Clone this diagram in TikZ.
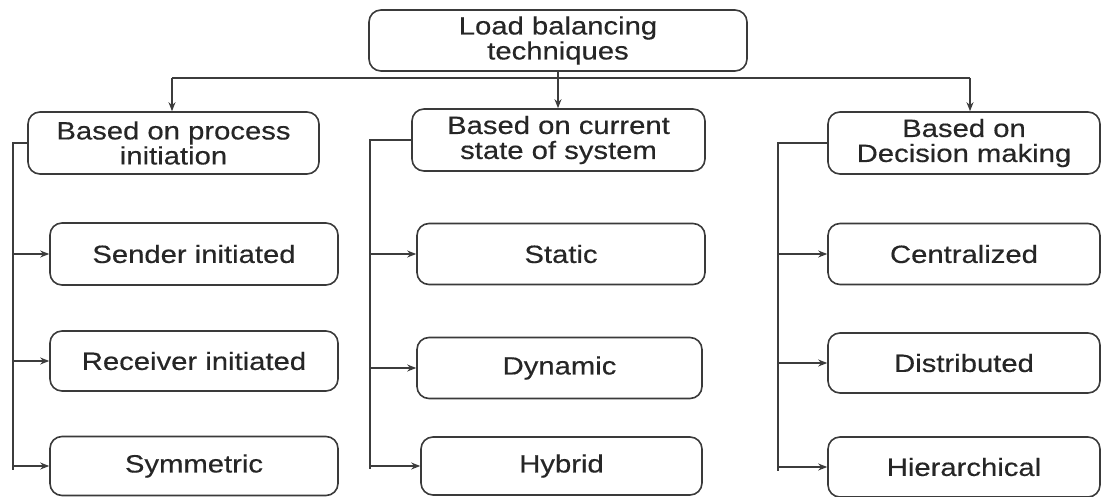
\documentclass[tikz,border=0pt]{standalone}
\usepackage{fontspec}
\setmainfont{Liberation Sans}[FakeStretch=1.17,FakeBold=0.4]
\usetikzlibrary{arrows.meta}
\definecolor{boxc}{HTML}{3A3A3A}
\definecolor{linec}{HTML}{3C3C3C}
\definecolor{txt}{HTML}{262626}
\begin{document}
\begin{tikzpicture}[x=1pt,y=-1pt,
  box/.style={draw=boxc, line width=1.6pt, rounded corners=12pt, inner sep=0pt,
    align=center, font=\fontsize{25}{25}\selectfont, text=txt},
  link/.style={draw=linec, line width=2pt},
  arr/.style={link, -{Stealth[length=9pt,width=7pt]}}]
\useasboundingbox (0,0) rectangle (1102,497);

% root
\node[box, minimum width=378pt, minimum height=61pt] (top) at (558,40.5) {Load balancing\\techniques};

% categories
\node[box, minimum width=291pt, minimum height=62pt] (c1) at (173.5,143) {Based on process\\initiation};
\node[box, minimum width=293pt, minimum height=62pt] (c2) at (558.5,140) {Based on current\\state of system};
\node[box, minimum width=272pt, minimum height=62pt] (c3) at (964,143) {Based on\\Decision making};

% leaves: process initiation
\node[box, minimum width=288pt, minimum height=62pt] (s1) at (194,254) {Sender initiated};
\node[box, minimum width=288pt, minimum height=60pt] (s2) at (194,361) {Receiver initiated};
\node[box, minimum width=288pt, minimum height=59pt] (s3) at (194,466) {Symmetric};

% leaves: current state
\node[box, minimum width=288pt, minimum height=61pt] (m1) at (561,254) {Static};
\node[box, minimum width=285pt, minimum height=61pt] (m2) at (559.5,368) {Dynamic};
\node[box, minimum width=281pt, minimum height=58pt] (m3) at (561.5,466) {Hybrid};

% leaves: decision making
\node[box, minimum width=272pt, minimum height=61pt] (r1) at (964,254) {Centralized};
\node[box, minimum width=272pt, minimum height=60pt] (r2) at (964,363) {Distributed};
\node[box, minimum width=272pt, minimum height=60pt] (r3) at (964,467) {Hierarchical};

% root to categories
\coordinate (bl) at (172,78);
\coordinate (br) at (970,78);
\draw[link] (bl) -- (br);
\draw[arr] (top.south) -- (top.south |- c2.north);
\draw[arr] (bl) -- (bl |- c1.north);
\draw[arr] (br) -- (br |- c3.north);

% category spines
\coordinate (lsb) at (13,470);
\coordinate (msb) at (370,469);
\coordinate (rsb) at (778,471);
\draw[link] (c1.west) -| (lsb);
\draw[link] (c2.west) -| (msb);
\draw[link] (c3.west) -| (rsb);
\foreach \n in {s1,s2,s3} \draw[arr] (lsb |- \n.west) -- (\n.west);
\foreach \n in {m1,m2,m3} \draw[arr] (msb |- \n.west) -- (\n.west);
\foreach \n in {r1,r2,r3} \draw[arr] (rsb |- \n.west) -- (\n.west);
\end{tikzpicture}
\end{document}
